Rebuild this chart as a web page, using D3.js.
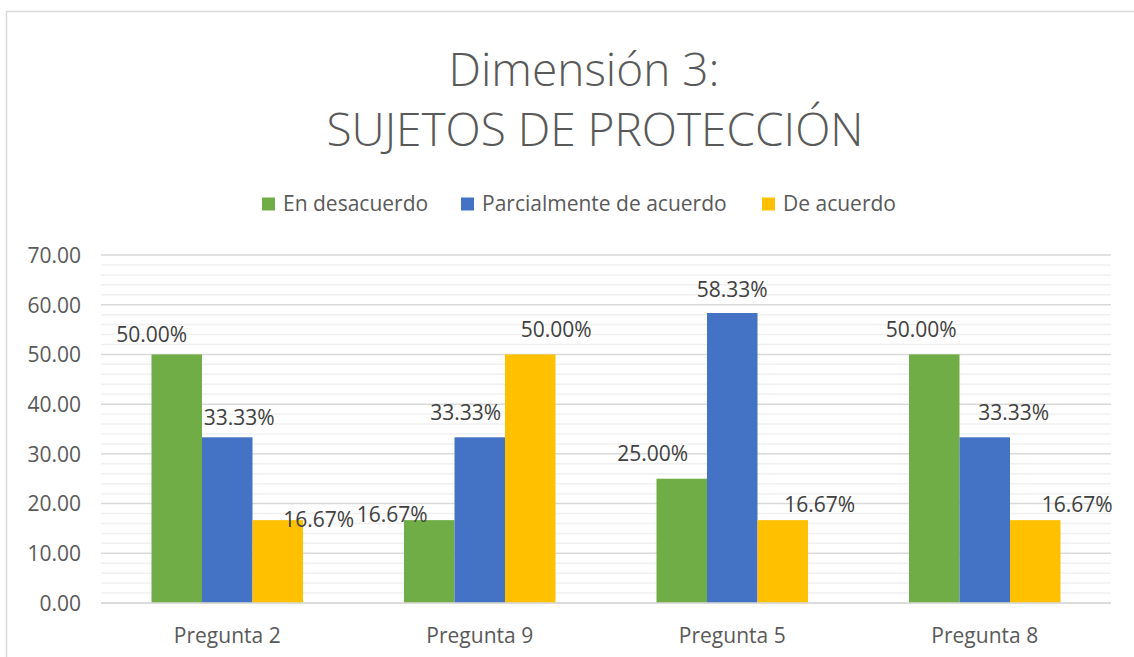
<!DOCTYPE html>
<html><head><meta charset="utf-8">
<script src="https://cdn.jsdelivr.net/npm/d3@7"></script>
<style>
html,body{margin:0;padding:0;background:#fff;}
svg{display:block;}
text{font-family:"Open Sans",sans-serif;}
</style></head>
<body>
<svg id="c" width="1134" height="657"></svg>
<script>
const categories = ["Pregunta 2","Pregunta 9","Pregunta 5","Pregunta 8"];
const seriesNames = ["En desacuerdo","Parcialmente de acuerdo","De acuerdo"];
const enDesacuerdo = [50.00, 16.67, 25.00, 50.00];
const parcialmente = [33.33, 33.33, 58.33, 33.33];
const deAcuerdo = [16.67, 50.00, 16.67, 16.67];
const yTicks = [0,10,20,30,40,50,60,70];
const colors = ["#70AD47","#4472C4","#FFC000"];
// manual label nudges (px) per series, per category
const labelNudgeX = [[-25,-37,-29,-13],[12,-14,0,29],[41,26,37,42]];
const labelNudgeY = [[0,14,-6,-5],[0,-5,-4,-5],[19,-5,4,4]];

const series = [enDesacuerdo, parcialmente, deAcuerdo];
const svg = d3.select("#c");

// chart border
svg.append("path").attr("d","M6.5,657 V11.5 H1134").attr("fill","none").attr("stroke","#d9d9d9").attr("stroke-width",1.5);

const pLeft=101, pRight=1111, pTop=255, pBottom=603;
const x = d3.scaleBand().domain(categories).range([pLeft,pRight]).paddingInner(0.4).paddingOuter(0.2);
const xs = d3.scaleBand().domain(d3.range(seriesNames.length)).range([0,x.bandwidth()]);
const y = d3.scaleLinear().domain([0,70]).range([pBottom,pTop]);

// minor grid
const minor = d3.range(0,70,2).filter(v=>v%10!==0);
svg.append("g").selectAll("line").data(minor).join("line")
  .attr("x1",pLeft).attr("x2",pRight).attr("y1",d=>y(d)).attr("y2",d=>y(d))
  .attr("stroke","#f0f0f0").attr("stroke-width",1.5);
// major grid
svg.append("g").selectAll("line").data(yTicks).join("line")
  .attr("x1",pLeft).attr("x2",pRight).attr("y1",d=>y(d)).attr("y2",d=>y(d))
  .attr("stroke","#d9d9d9").attr("stroke-width",1.5);

// y axis labels
const yAxis = d3.axisLeft(y).tickValues(yTicks).tickFormat(d3.format(".2f")).tickSize(0).tickPadding(0);
const ga = svg.append("g").attr("transform",`translate(${pLeft-20},0)`).call(yAxis);
ga.select(".domain").remove();
ga.selectAll("text").attr("font-size",21).attr("fill","#595959").attr("font-family","Open Sans").attr("dy","0.35em");

// x axis labels
const xAxis = d3.axisBottom(x).tickSize(0).tickPadding(0);
const gx = svg.append("g").attr("transform",`translate(0,${pBottom+25})`).call(xAxis);
gx.select(".domain").remove();
gx.selectAll("text").attr("font-size",21).attr("fill","#595959").attr("font-family","Open Sans").attr("dy","0.71em");

// bars
series.forEach((vals,si)=>{
  svg.append("g").selectAll("rect").data(vals).join("rect")
    .attr("x",(d,i)=>x(categories[i])+xs(si))
    .attr("width",xs.bandwidth())
    .attr("y",d=>y(d)).attr("height",d=>y(0)-y(d))
    .attr("fill",colors[si]);
});

// axis line
svg.append("line").attr("x1",pLeft).attr("x2",pRight).attr("y1",y(0)).attr("y2",y(0)).attr("stroke","#d9d9d9").attr("stroke-width",1.5);

// data labels
series.forEach((vals,si)=>{
  svg.append("g").selectAll("text").data(vals).join("text")
    .attr("x",(d,i)=>x(categories[i])+xs(si)+xs.bandwidth()/2+labelNudgeX[si][i])
    .attr("y",(d,i)=>y(d)-12+labelNudgeY[si][i])
    .attr("text-anchor","middle").attr("font-size",21).attr("fill","#404040")
    .text(d=>d3.format(".2f")(d)+"%");
});

// title
const title = svg.append("text").attr("text-anchor","middle").attr("fill","#595959")
  .attr("font-size",46).attr("font-weight",300);
title.append("tspan").attr("x",584).attr("y",86).text("Dimensión 3:");
title.append("tspan").attr("x",595).attr("y",146).text("SUJETOS DE PROTECCIÓN");

// legend
const legX = [262, 461, 762];
const lg = svg.append("g");
seriesNames.forEach((n,i)=>{
  lg.append("rect").attr("x",legX[i]).attr("y",197.5).attr("width",13).attr("height",13).attr("fill",colors[i]);
  lg.append("text").attr("x",legX[i]+21).attr("y",211).attr("font-size",21).attr("fill","#595959").text(n);
});
</script>
</body></html>
